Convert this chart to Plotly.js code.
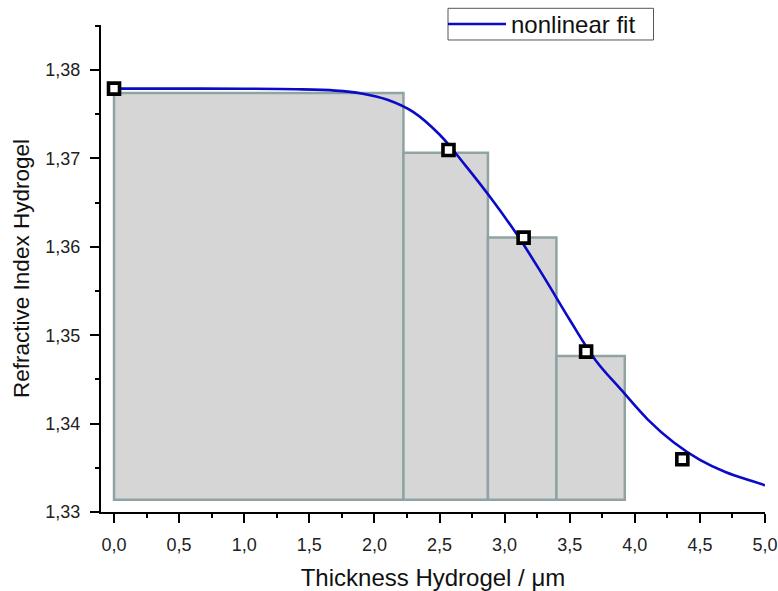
<!DOCTYPE html>
<html>
<head>
<meta charset="utf-8">
<script src="https://cdn.plot.ly/plotly-3.0.1.min.js"></script>
<style>
  html, body { margin: 0; padding: 0; background: #ffffff; }
  #chart { width: 778px; height: 591px; }
</style>
</head>
<body>
<div id="chart"></div>
<script>
// Layer bins: left/right edges and refractive index of each layer
const binLeft  = [0.0, 2.223, 2.872, 3.398];
const binRight = [2.223, 2.872, 3.398, 3.923];
const binTop   = [1.3774, 1.37066, 1.36107, 1.34765];
const binBase  = 1.3314;

// Measured refractive index vs. thickness
const measX = [0.0, 2.569, 3.146, 3.626, 4.365];
const measY = [1.3779, 1.37095, 1.36104, 1.34814, 1.33596];

// Nonlinear fit curve
const fitX = [0.0, 0.5, 1.0, 1.4, 1.7, 1.9, 2.1, 2.3, 2.5, 2.7, 2.9, 3.1, 3.3, 3.5, 3.7, 3.9, 4.1, 4.3, 4.5, 4.7, 4.9, 5.0];
const fitY = [1.37790, 1.37790, 1.37789, 1.37783, 1.37768, 1.37736, 1.37665, 1.37525, 1.37271, 1.36919, 1.36541,
              1.36128, 1.35663, 1.35175, 1.34715, 1.34375, 1.34046, 1.33786, 1.33590, 1.33450, 1.33350, 1.33302];

const FONT = 'Liberation Sans, Arial, sans-serif';

const binCenters = binLeft.map((l, i) => (l + binRight[i]) / 2);
const binWidths  = binLeft.map((l, i) => binRight[i] - l);
const binHeights = binTop.map(t => t - binBase);

const traces = [
  {
    type: 'bar',
    x: binCenters,
    y: binHeights,
    base: binBase,
    width: binWidths,
    marker: { color: '#d6d6d6', line: { color: '#8fa3a3', width: 2.5 } },
    showlegend: false,
    hoverinfo: 'skip'
  },
  {
    type: 'scatter',
    mode: 'lines',
    x: fitX,
    y: fitY,
    line: { color: '#0a0ac8', width: 2.6, shape: 'spline', smoothing: 1 },
    name: 'nonlinear fit',
    showlegend: false
  },
  {
    type: 'scatter',
    mode: 'markers',
    x: measX,
    y: measY,
    marker: { symbol: 'square', size: 11, color: '#ffffff', line: { color: '#000000', width: 3.6 } },
    cliponaxis: false,
    showlegend: false
  }
];

// Paper-coordinate helpers for the legend box
const L = 101, R = 765, T = 25, B = 512.3;
const px = v => (v - L) / (R - L);
const py = v => (B - v) / (B - T);

const layout = {
  width: 778,
  height: 591,
  margin: { l: L, r: 778 - R, t: T, b: 591 - B },
  paper_bgcolor: '#ffffff',
  plot_bgcolor: '#ffffff',
  separators: ', ',
  showlegend: false,
  font: { family: FONT, color: '#222222' },
  xaxis: {
    range: [-0.1, 5.0],
    tick0: 0,
    dtick: 0.5,
    tickformat: '.1f',
    ticks: 'outside',
    ticklen: 9,
    tickwidth: 2,
    tickcolor: '#000000',
    minor: { dtick: 0.25, ticks: 'outside', ticklen: 4, tickwidth: 2, tickcolor: '#000000' },
    showline: true,
    linecolor: '#000000',
    linewidth: 2,
    showgrid: false,
    zeroline: false,
    automargin: false,
    ticklabelstandoff: 6,
    tickfont: { family: FONT, size: 18, color: '#222222' },
    title: { text: 'Thickness Hydrogel / μm', font: { family: FONT, size: 24, color: '#111111' }, standoff: 16 }
  },
  yaxis: {
    range: [1.33, 1.3851],
    tick0: 1.33,
    dtick: 0.01,
    tickformat: '.2f',
    ticks: 'outside',
    ticklen: 9,
    tickwidth: 2,
    tickcolor: '#000000',
    minor: { dtick: 0.005, ticks: 'outside', ticklen: 4, tickwidth: 2, tickcolor: '#000000' },
    showline: true,
    linecolor: '#000000',
    linewidth: 2,
    showgrid: false,
    zeroline: false,
    automargin: false,
    ticklabelstandoff: 6,
    tickfont: { family: FONT, size: 18, color: '#222222' },
    title: { text: 'Refractive Index Hydrogel', font: { family: FONT, size: 22.5, color: '#111111' }, standoff: 9 }
  },
  shapes: [
    { type: 'rect', xref: 'paper', yref: 'paper',
      x0: px(448), x1: px(653.5), y0: py(40), y1: py(8.3),
      line: { color: '#555555', width: 1 }, fillcolor: '#ffffff' },
    { type: 'line', xref: 'paper', yref: 'paper',
      x0: px(448), x1: px(506), y0: py(24), y1: py(24),
      line: { color: '#0a0ac8', width: 2.6 } }
  ],
  annotations: [
    { xref: 'paper', yref: 'paper', x: px(509), y: py(24.5), xanchor: 'left', yanchor: 'middle',
      text: 'nonlinear fit', showarrow: false, font: { family: FONT, size: 24, color: '#111111' } }
  ]
};

Plotly.newPlot('chart', traces, layout, { displayModeBar: false, staticPlot: true });
</script>
</body>
</html>
